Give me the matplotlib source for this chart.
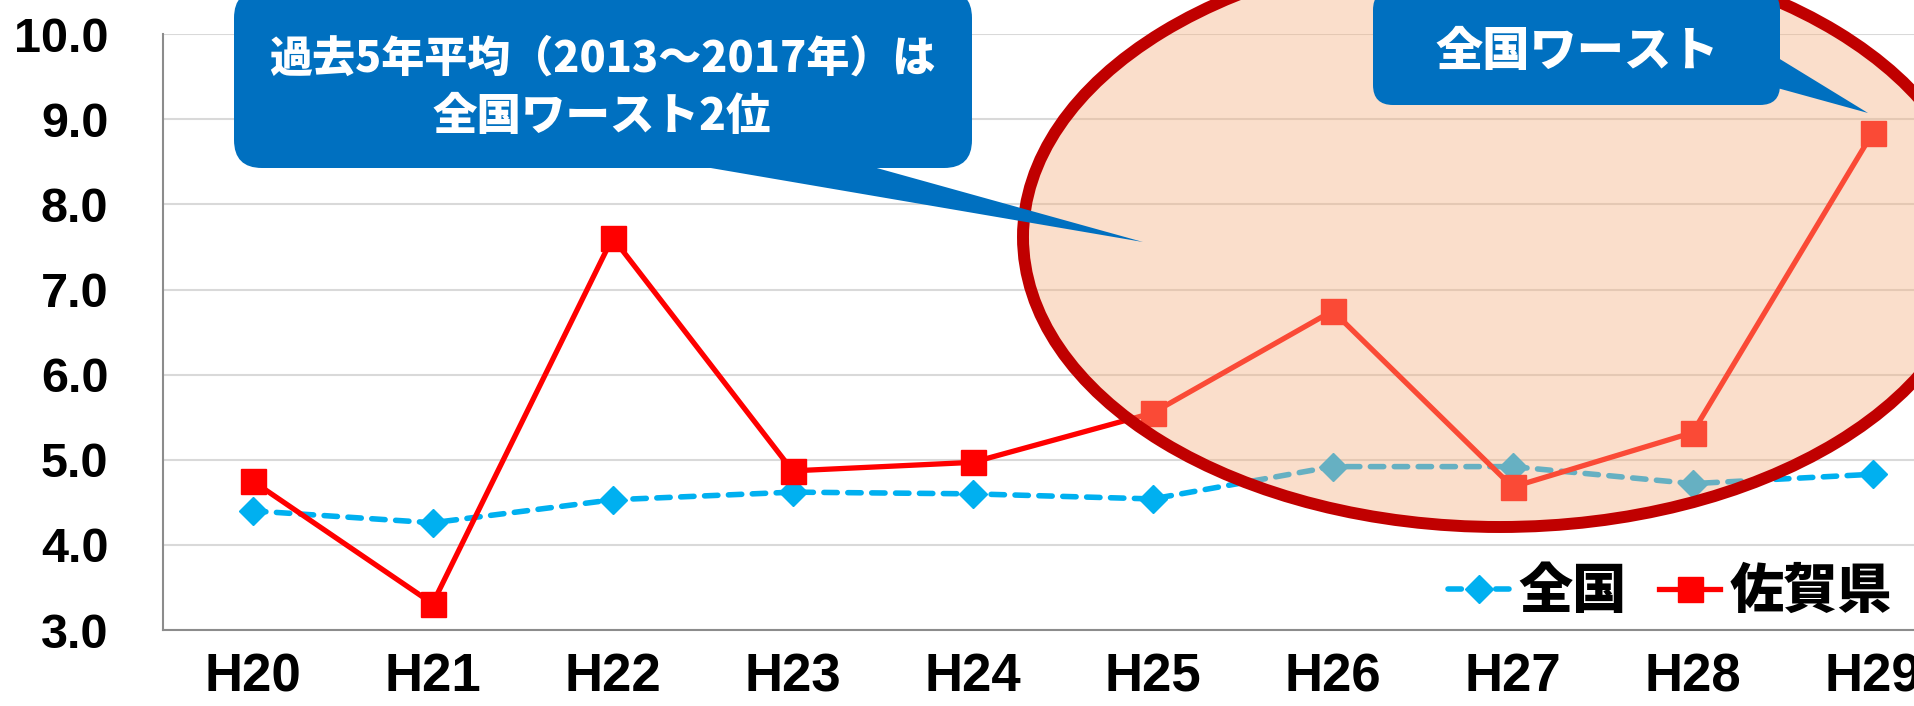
import matplotlib.pyplot as plt
import matplotlib.transforms as mtransforms
from matplotlib.patches import Ellipse, FancyBboxPatch, Polygon

plt.rcParams['font.family'] = ['Noto Sans CJK JP', 'DejaVu Sans']

# データ（H20〜H29）
years = ["H20", "H21", "H22", "H23", "H24", "H25", "H26", "H27", "H28", "H29"]
zenkoku = [4.40, 4.26, 4.53, 4.62, 4.60, 4.54, 4.92, 4.92, 4.72, 4.83]
saga = [4.75, 3.31, 7.61, 4.87, 4.97, 5.55, 6.75, 4.68, 5.32, 8.84]
y_ticks = [3, 4, 5, 6, 7, 8, 9, 10]

W, H = 1914, 706
fig = plt.figure(figsize=(W / 100, H / 100), dpi=100)
ax = fig.add_axes([162.6 / W, 76 / H, 1800 / W, 595.7 / H])

x = list(range(len(years)))
ax.plot(x, zenkoku, color="#00B0F0", lw=4.0, dashes=(2.4, 1.9),
        dash_capstyle="round", marker="D", ms=14, label="全国", zorder=3)
ax.plot(x, saga, color="#FF0000", lw=3.8, marker="s", ms=18,
        label="佐賀県", zorder=4)

ax.set_xlim(-0.5, len(years) - 0.5)
ax.set_ylim(3, 10)
ax.set_xticks(x)
ax.set_xticklabels(years, family=["Liberation Sans Narrow", "Liberation Sans"],
                   weight="bold", size=38)
ax.set_yticks(y_ticks)
ax.set_yticklabels([f"{v:.1f}" for v in y_ticks], family=["Liberation Sans"],
                   weight="bold", size=35)
ax.tick_params(axis="x", length=0, pad=16)
ax.tick_params(axis="y", length=0, pad=39)
ax.yaxis.grid(True, color="#D9D9D9", lw=1.5)
ax.set_axisbelow(True)
for s in ["top", "right"]:
    ax.spines[s].set_visible(False)
for s in ["left", "bottom"]:
    ax.spines[s].set_color("#8C8C8C")
    ax.spines[s].set_linewidth(1.5)

ax.legend(loc="center right", bbox_to_anchor=(1892 / W, 1 - 592 / H),
          bbox_transform=fig.transFigure, ncol=2, frameon=False,
          prop=dict(family=["Noto Sans CJK JP"], weight="heavy", size=39),
          handlelength=1.13, handletextpad=0.17, columnspacing=0.6,
          borderpad=0, borderaxespad=0)

# ピクセル座標（左上原点）
pix = mtransforms.Affine2D().scale(1 / W, -1 / H).translate(0, 1) + fig.transFigure

# 楕円（半透明の塗り + 枠）
fig.add_artist(Ellipse((1500, 237), 954, 580, transform=pix,
                       facecolor="#F4B183", alpha=0.42, edgecolor="none", zorder=5))
fig.add_artist(Ellipse((1500, 237), 954, 580, transform=pix, fill=False,
                       edgecolor="#C00000", lw=8.6, zorder=6))

# 吹き出し1
blue = "#0070C0"
fig.add_artist(Polygon([(664, 160), (848, 160), (1143, 242)], transform=pix,
                       facecolor=blue, edgecolor="none", zorder=7))
fig.add_artist(FancyBboxPatch((234, -10), 738, 178, transform=pix,
                              boxstyle="round,pad=0,rounding_size=28",
                              facecolor=blue, edgecolor="none", zorder=7))
fig.text(602, 59, "過去5年平均（2013～2017年）は", transform=pix, ha="center",
         va="center", color="white", weight="heavy", size=31, zorder=8)
fig.text(602, 117, "全国ワースト2位", transform=pix, ha="center",
         va="center", color="white", weight="heavy", size=32, zorder=8)

# 吹き出し2
fig.add_artist(Polygon([(1770, 53), (1868, 113), (1770, 86)], transform=pix,
                       facecolor=blue, edgecolor="none", zorder=7))
fig.add_artist(FancyBboxPatch((1373, -10), 407, 115, transform=pix,
                              boxstyle="round,pad=0,rounding_size=20",
                              facecolor=blue, edgecolor="none", zorder=7))
fig.text(1577, 52, "全国ワースト", transform=pix, ha="center",
         va="center", color="white", weight="heavy", size=34, zorder=8)

fig.savefig("out.png", dpi=100)
print("saved: out.png")
